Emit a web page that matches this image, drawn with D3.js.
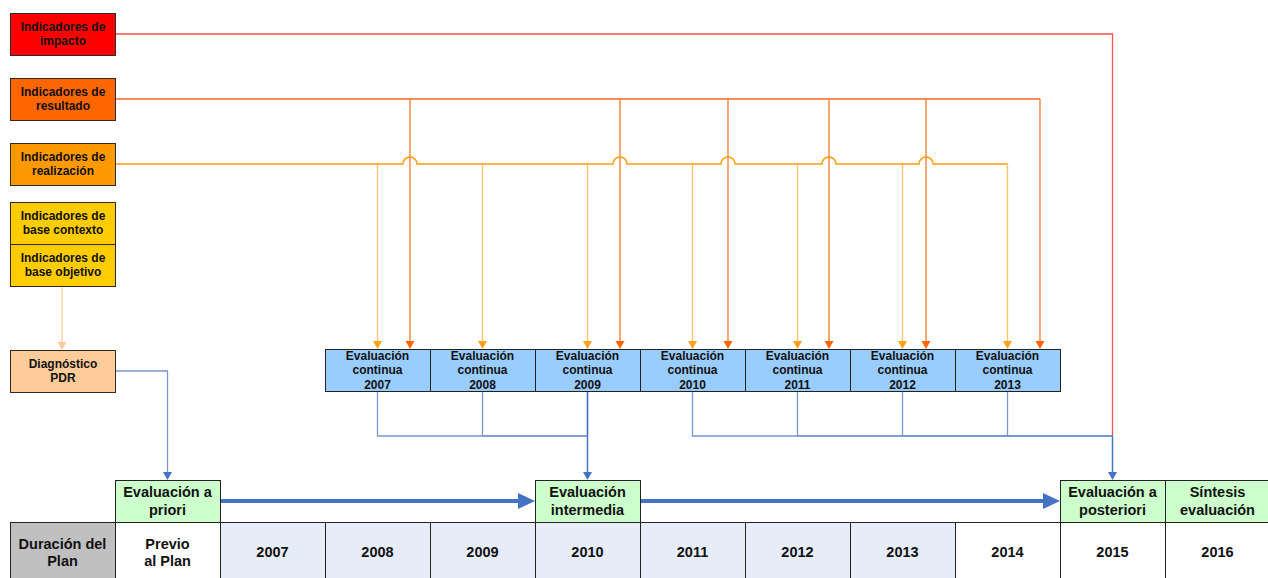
<!DOCTYPE html>
<html>
<head>
<meta charset="utf-8">
<script src="https://cdn.jsdelivr.net/npm/d3@7/dist/d3.min.js"></script>
<style>
  body { margin: 0; background: #fff; }
  text { font-family: "Liberation Sans", Arial, sans-serif; font-weight: bold; fill: #111; }
</style>
</head>
<body>
<div id="main"></div>
<script>
// ---- data ----
var planCols = ["Duración del Plan", "Previo al Plan", "2007", "2008", "2009", "2010",
                "2011", "2012", "2013", "2014", "2015", "2016"];
var planLabels = [["Duración del", "Plan"], ["Previo", "al Plan"], ["2007"], ["2008"], ["2009"], ["2010"],
                  ["2011"], ["2012"], ["2013"], ["2014"], ["2015"], ["2016"]];
var shadedYears = ["2007", "2008", "2009", "2010", "2011", "2012", "2013"];

var indicatorKeys = ["impacto", "resultado", "realizacion", "contexto", "objetivo", "diagnostico"];
var indicatorLabels = [["Indicadores de", "impacto"], ["Indicadores de", "resultado"],
                       ["Indicadores de", "realización"], ["Indicadores de", "base contexto"],
                       ["Indicadores de", "base objetivo"], ["Diagnóstico", "PDR"]];

var evalYears = ["2007", "2008", "2009", "2010", "2011", "2012", "2013"];
var resultadoYears = ["2007", "2009", "2010", "2011", "2012", "2013"];
var realizacionYears = ["2007", "2008", "2009", "2010", "2011", "2012", "2013"];
var feedIntermedia = ["2007", "2008", "2009"];
var feedPosteriori = ["2010", "2011", "2012", "2013"];

var milestoneCols = ["Previo al Plan", "2010", "2015", "2016"];
var milestoneLabels = [["Evaluación a", "priori"], ["Evaluación", "intermedia"],
                       ["Evaluación a", "posteriori"], ["Síntesis", "evaluación"]];

// ---- layout / style ----
var width = 1268, height = 578;
var boxFill = {impacto: "#ff0000", resultado: "#ff6600", realizacion: "#ff9900",
               contexto: "#ffcc00", objetivo: "#ffcc00", diagnostico: "#ffcc99"};
var boxTop = {impacto: 13, resultado: 78, realizacion: 143, contexto: 202, objetivo: 244, diagnostico: 350};
var boxH = 42;
var evalTop = 349, evalBottom = 391, busY = 436, msTop = 480, msBottom = 522, tableTop = 522;
var blue = "#4472c4", thinBlue = "#7896d2";
// where the resultado arrow lands inside each box (fraction of box width)
var resFrac = {"2007": 0.81, "2009": 0.81, "2010": 0.84, "2011": 0.8, "2012": 0.725, "2013": 0.81};

var svg = d3.select("#main").append("svg")
  .attr("width", width)
  .attr("height", height)
  .style("background-color", "white");

var x = d3.scaleBand().domain(planCols).range([10, 1270]);
var evalX = d3.scaleBand().domain(evalYears).range([x("2008"), x("2015")]);
var leftX = x("Duración del Plan"), leftW = x.bandwidth() + 1;
var cx = function(col) { return x(col) + x.bandwidth() / 2; };
var ecx = function(y) { return evalX(y) + evalX.bandwidth() / 2; };
var rx = function(y) { return Math.round(evalX(y) + evalX.bandwidth() * resFrac[y]); };
var midY = function(k) { return boxTop[k] + boxH / 2; };

function arrowDown(g, ax, tipY, color, hw, h) {
  g.append("path")
    .attr("d", "M" + (ax - hw) + "," + (tipY - h) + "L" + (ax + hw) + "," + (tipY - h) + "L" + ax + "," + tipY + "Z")
    .attr("fill", color);
}

function multiText(g, lines, tx, ty, size, lh) {
  var t = g.append("text")
    .attr("text-anchor", "middle")
    .style("font-size", size + "px");
  lines.forEach(function(l, i) {
    t.append("tspan")
      .attr("x", tx)
      .attr("y", ty + (i - (lines.length - 1) / 2) * lh)
      .attr("dy", "0.35em")
      .text(l);
  });
}

var lines = svg.append("g").attr("fill", "none");

// impacto line -> posteriori
lines.append("path")
  .attr("d", "M" + (leftX + leftW) + "," + midY("impacto") + "H" + cx("2015") + "V" + busY)
  .attr("stroke", "#ff4d4d").attr("stroke-width", 1.3);

// resultado verticals + horizontal
var resEnd = rx(resultadoYears[resultadoYears.length - 1]);
lines.append("path")
  .attr("d", "M" + (leftX + leftW) + "," + midY("resultado") + "H" + resEnd)
  .attr("stroke", "#f26d1f").attr("stroke-width", 1.5);
resultadoYears.forEach(function(y) {
  lines.append("line")
    .attr("x1", rx(y)).attr("x2", rx(y))
    .attr("y1", midY("resultado")).attr("y2", evalTop - 6)
    .attr("stroke", "#f2792e").attr("stroke-width", 1.3);
  arrowDown(svg, rx(y), evalTop, "#ff6600", 4.5, 8);
});

// realizacion verticals
realizacionYears.forEach(function(y) {
  lines.append("line")
    .attr("x1", ecx(y)).attr("x2", ecx(y))
    .attr("y1", midY("realizacion")).attr("y2", evalTop - 6)
    .attr("stroke", "#ffc46b").attr("stroke-width", 1.3);
  arrowDown(svg, ecx(y), evalTop, "#ffa31a", 4.5, 8);
});

// realizacion horizontal with hops over resultado verticals
var realEnd = ecx(realizacionYears[realizacionYears.length - 1]);
var hopR = 7;
var d = "M" + (leftX + leftW) + "," + midY("realizacion");
resultadoYears.map(rx).filter(function(h) { return h < realEnd; }).forEach(function(h) {
  d += "H" + (h - hopR) + "A" + hopR + "," + hopR + " 0 0 1 " + (h + hopR) + "," + midY("realizacion");
});
d += "H" + realEnd;
lines.append("path").attr("d", d)
  .attr("stroke", "#ff9c0f").attr("stroke-width", 1.6);

// base objetivo -> diagnostico
lines.append("line")
  .attr("x1", 62).attr("x2", 62)
  .attr("y1", boxTop.objetivo + boxH).attr("y2", boxTop.diagnostico - 6)
  .attr("stroke", "#ffcc99").attr("stroke-width", 1.3);
arrowDown(svg, 62, boxTop.diagnostico, "#ffcc99", 4.5, 8);

// diagnostico -> a priori
lines.append("path")
  .attr("d", "M" + (leftX + leftW) + "," + midY("diagnostico") + "H" + cx("Previo al Plan") + "V" + (msTop - 6))
  .attr("stroke", thinBlue).attr("stroke-width", 1.3);
arrowDown(svg, cx("Previo al Plan"), msTop, blue, 4.5, 8);

// eval continua -> intermedia
feedIntermedia.forEach(function(y) {
  lines.append("path")
    .attr("d", "M" + ecx(y) + "," + evalBottom + "V" + busY + "H" + cx("2010"))
    .attr("stroke", thinBlue).attr("stroke-width", 1.3);
});
lines.append("line")
  .attr("x1", cx("2010")).attr("x2", cx("2010"))
  .attr("y1", evalBottom).attr("y2", msTop - 6)
  .attr("stroke", blue).attr("stroke-width", 1.5);
arrowDown(svg, cx("2010"), msTop, blue, 4.5, 8);

// eval continua -> posteriori
feedPosteriori.forEach(function(y) {
  lines.append("path")
    .attr("d", "M" + ecx(y) + "," + evalBottom + "V" + busY + "H" + cx("2015"))
    .attr("stroke", thinBlue).attr("stroke-width", 1.3);
});
lines.append("line")
  .attr("x1", cx("2015")).attr("x2", cx("2015"))
  .attr("y1", busY).attr("y2", msTop - 6)
  .attr("stroke", blue).attr("stroke-width", 1.5);
arrowDown(svg, cx("2015"), msTop, blue, 4.5, 8);

// thick arrows between milestones
var msMid = (msTop + msBottom) / 2;
[["Previo al Plan", "2010"], ["2010", "2015"]].forEach(function(p) {
  var x0 = x(p[0]) + x.bandwidth(), x1 = x(p[1]);
  lines.append("line")
    .attr("x1", x0).attr("x2", x1 - 14)
    .attr("y1", msMid).attr("y2", msMid)
    .attr("stroke", blue).attr("stroke-width", 4);
  svg.append("path")
    .attr("d", "M" + (x1 - 17) + "," + (msMid - 8) + "L" + x1 + "," + msMid + "L" + (x1 - 17) + "," + (msMid + 8) + "Z")
    .attr("fill", blue);
});

// indicator boxes
var boxes = svg.append("g");
indicatorKeys.forEach(function(k, i) {
  boxes.append("rect")
    .attr("x", leftX + 0.5).attr("y", boxTop[k] + 0.5)
    .attr("width", leftW - 1).attr("height", boxH)
    .attr("fill", boxFill[k]).attr("stroke", "#2a2a2a").attr("stroke-width", 1);
  multiText(boxes, indicatorLabels[i], leftX + leftW / 2, midY(k), 12, 14.5);
});

// eval continua boxes
evalYears.forEach(function(y) {
  boxes.append("rect")
    .attr("x", evalX(y) + 0.5).attr("y", evalTop + 0.5)
    .attr("width", evalX.bandwidth()).attr("height", evalBottom - evalTop)
    .attr("fill", "#99ccff").attr("stroke", "#222").attr("stroke-width", 1);
  multiText(boxes, ["Evaluación", "continua", y], ecx(y), (evalTop + evalBottom) / 2, 12, 14.5);
});

// milestone boxes
milestoneCols.forEach(function(c, i) {
  boxes.append("rect")
    .attr("x", x(c) + 0.5).attr("y", msTop + 0.5)
    .attr("width", x.bandwidth()).attr("height", msBottom - msTop)
    .attr("fill", "#ccffcc").attr("stroke", "#222").attr("stroke-width", 1);
  multiText(boxes, milestoneLabels[i], cx(c), msMid, 14.5, 18);
});

// plan duration table
planCols.forEach(function(c, i) {
  var fill = i === 0 ? "#c0c0c0" : (shadedYears.indexOf(c) >= 0 ? "#e7edf8" : "#ffffff");
  boxes.append("rect")
    .attr("x", x(c) + 0.5).attr("y", tableTop + 0.5)
    .attr("width", x.bandwidth()).attr("height", 70)
    .attr("fill", fill).attr("stroke", "#222").attr("stroke-width", 1);
  multiText(boxes, planLabels[i], cx(c), 552, 14.5, 17);
});
</script>
</body>
</html>
